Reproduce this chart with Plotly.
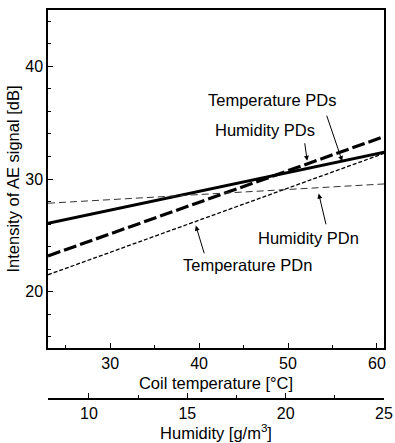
import numpy as np
import plotly.graph_objects as go

# ---- data ----
coil_temp = [23.0, 61.0]                 # Coil temperature [°C] at the line ends
temperature_pds = [26.07, 32.40]         # thick solid
humidity_pds = [23.17, 33.82]            # thick long dash
temperature_pdn = [21.50, 32.33]         # thin short dash
humidity_pdn = [27.85, 29.57]            # thin dash
humidity_ticks = [10, 15, 20, 25]        # secondary axis (Humidity [g/m3])

x_range = [23.0, 60.8]
y_range = [15, 45]
hum_range = [7.92, 25.0]

FONT = "Liberation Sans, Arial, sans-serif"

fig = go.Figure()
fig.add_trace(go.Scatter(x=coil_temp, y=temperature_pds, mode="lines",
                         line=dict(color="black", width=3), showlegend=False, hoverinfo="skip"))
fig.add_trace(go.Scatter(x=coil_temp, y=humidity_pds, mode="lines",
                         line=dict(color="black", width=3.2, dash="13px,4px"), showlegend=False, hoverinfo="skip"))
fig.add_trace(go.Scatter(x=coil_temp, y=temperature_pdn, mode="lines",
                         line=dict(color="black", width=1.3, dash="4px,2px"), showlegend=False, hoverinfo="skip"))
fig.add_trace(go.Scatter(x=coil_temp, y=humidity_pdn, mode="lines",
                         line=dict(color="#333333", width=1, dash="7px,4px"), showlegend=False, hoverinfo="skip"))
# dummy trace so the humidity axis is active
fig.add_trace(go.Scatter(x=humidity_ticks, y=[None] * len(humidity_ticks), xaxis="x2", yaxis="y",
                         mode="lines", showlegend=False, hoverinfo="skip"))

def on_line(series, t):
    return float(np.interp(t, coil_temp, series))

# arrows: (series, tip temperature, ax px, ay px, standoff)
arrows = [
    (temperature_pds, 56.1, -16, -47, 0),
    (humidity_pds, 52.2, -3, -22, 3),
    (humidity_pdn, 53.3, 9, 38, 6),
    (temperature_pdn, 39.5, 10, 33, 4),
]
for series, t, ax, ay, so in arrows:
    fig.add_annotation(x=t, y=on_line(series, t), xref="x", yref="y", text="",
                       showarrow=True, ax=ax, ay=ay, arrowhead=2, arrowsize=1,
                       arrowwidth=1, arrowcolor="black", standoff=so)

labels = [
    ("Temperature PDs", 48.2, 37.0),
    ("Humidity PDs", 47.4, 34.35),
    ("Humidity PDn", 52.3, 24.77),
    ("Temperature PDn", 45.4, 22.37),
]
for txt, x, y in labels:
    fig.add_annotation(x=x, y=y, xref="x", yref="y", text=txt, showarrow=False,
                       font=dict(family=FONT, size=16.5, color="black"))

axis_common = dict(showgrid=False, zeroline=False, showline=True, linecolor="black",
                   linewidth=1.5, ticks="inside", ticklen=5, tickwidth=1.2, tickcolor="black",
                   automargin=False,
                   tickfont=dict(family=FONT, size=16, color="black"))

fig.update_layout(
    width=395, height=443,
    margin=dict(l=48, r=11, t=10, b=44),
    paper_bgcolor="white", plot_bgcolor="white",
    font=dict(family=FONT, size=16, color="black"),
    xaxis=dict(range=x_range, dtick=10, tick0=0, mirror=True, anchor="y",
               minor=dict(dtick=5, ticks="inside", ticklen=3, tickcolor="black"),
               title=dict(text="Coil temperature [°C]", font=dict(family=FONT, size=16.5), standoff=6),
               **axis_common),
    yaxis=dict(range=y_range, dtick=10, tick0=0, mirror=True, domain=[0.1311, 1],
               minor=dict(dtick=2, ticks="inside", ticklen=3, tickcolor="black"),
               title=dict(text="Intensity of AE signal [dB]", font=dict(family=FONT, size=16.5), standoff=1),
               **axis_common),
    xaxis2=dict(range=hum_range, dtick=5, tick0=0, overlaying="x", anchor="free", position=0,
                side="bottom",
                minor=dict(dtick=2.5, ticks="inside", ticklen=3, tickcolor="black"),
                title=dict(text="Humidity [g/m<sup>3</sup>]", font=dict(family=FONT, size=16.5), standoff=2),
                **axis_common),
)

fig.write_html("out.html")
